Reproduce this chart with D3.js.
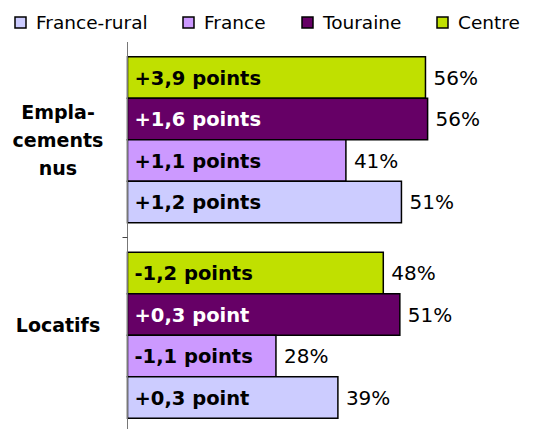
<!DOCTYPE html>
<html>
<head>
<meta charset="utf-8">
<script src="https://cdn.jsdelivr.net/npm/d3@7"></script>
<style>
	body { margin: 0; background: #fff; }
	svg { display: block; font-family: "DejaVu Sans", Verdana, sans-serif; }
</style>
</head>
<body>
<svg id="chart" width="539" height="429"></svg>
<script>
// ── Data ──────────────────────────────────────────────────────────────────────
const categories = ['Emplacements nus', 'Locatifs'];
const categoryLines = [['Empla-', 'cements', 'nus'], ['Locatifs']];
const series = ['Centre', 'Touraine', 'France', 'France-rural'];   // top to bottom in each group
const legendOrder = ['France-rural', 'France', 'Touraine', 'Centre'];
const colors = ['#c0e000', '#660066', '#cc99ff', '#ccccff'];
const textColors = ['#000', '#fff', '#000', '#000'];

// shares (%), per series, per category
const centreValues      = [55.8, 47.9];
const touraineValues    = [56.2, 51.0];
const franceValues      = [40.9, 27.8];
const franceRuralValues = [51.3, 39.4];

// evolution labels
const centreDelta      = ['+3,9 points', '-1,2 points'];
const touraineDelta    = ['+1,6 points', '+0,3 point'];
const franceDelta      = ['+1,1 points', '-1,1 points'];
const franceRuralDelta = ['+1,2 points', '+0,3 point'];

const values = [centreValues, touraineValues, franceValues, franceRuralValues];
const deltas = [centreDelta, touraineDelta, franceDelta, franceRuralDelta];

const rows = [];
categories.forEach((c, ci) => {
	series.forEach((s, si) => {
		rows.push({ cat: c, series: s, si, value: values[si][ci], delta: deltas[si][ci] });
	});
});

// ── Scales ────────────────────────────────────────────────────────────────────
const svg = d3.select('#chart');
const x = d3.scaleLinear().domain([0, 75]).range([127.5, 528]);
const y0 = d3.scaleBand().domain(categories).range([42, 433]).paddingInner(0.151).paddingOuter(0.0755);
const y1 = d3.scaleBand().domain(series).range([0, y0.bandwidth()]);

// ── Bars ──────────────────────────────────────────────────────────────────────
const barG = svg.append('g');
const bar = barG.selectAll('g.bar').data(rows).join('g')
	.attr('class', 'bar')
	.attr('transform', d => `translate(0,${y0(d.cat) + y1(d.series)})`);

bar.append('rect')
	.attr('x', x(0))
	.attr('y', 0)
	.attr('width', d => x(d.value) - x(0))
	.attr('height', y1.bandwidth())
	.attr('fill', d => colors[d.si])
	.attr('stroke', '#000')
	.attr('stroke-width', 1.5);

bar.append('text')
	.attr('x', x(0) + 7)
	.attr('y', y1.bandwidth() / 2)
	.attr('dy', '0.36em')
	.attr('font-size', 19.5)
	.attr('font-weight', 'bold')
	.attr('fill', d => textColors[d.si])
	.text(d => d.delta);

bar.append('text')
	.attr('x', d => x(d.value) + 8)
	.attr('y', y1.bandwidth() / 2)
	.attr('dy', '0.36em')
	.attr('font-size', 20)
	.attr('fill', '#000')
	.text(d => Math.round(d.value) + '%');

// ── Category axis ─────────────────────────────────────────────────────────────
const axisG = svg.append('g');
axisG.append('line')
	.attr('x1', x(0)).attr('x2', x(0))
	.attr('y1', y0.range()[0]).attr('y2', y0.range()[1])
	.attr('stroke', '#777').attr('stroke-width', 1);

// tick between the two groups
const step = y0.step();
axisG.append('line')
	.attr('x1', x(0) - 5).attr('x2', x(0))
	.attr('y1', y0.range()[0] + step).attr('y2', y0.range()[0] + step)
	.attr('stroke', '#444').attr('stroke-width', 1);

// Excel puts the single-line label a little above the band centre
const catShift = [0, -10];
const catLabel = axisG.selectAll('text.cat').data(categories).join('text')
	.attr('class', 'cat')
	.attr('text-anchor', 'middle')
	.attr('font-size', 19)
	.attr('font-weight', 'bold')
	.attr('fill', '#000');

catLabel.each(function(c, ci) {
	const lines = categoryLines[ci];
	const cy = y0(c) + y0.bandwidth() / 2 + catShift[ci];
	const lh = 28;
	d3.select(this).selectAll('tspan').data(lines).join('tspan')
		.attr('x', 58)
		.attr('y', (l, i) => cy + (i - (lines.length - 1) / 2) * lh)
		.attr('dy', '0.36em')
		.text(l => l);
});

// ── Legend ────────────────────────────────────────────────────────────────────
const legendX = [15, 183, 302, 437];
const legend = svg.append('g').selectAll('g').data(legendOrder).join('g')
	.attr('transform', (d, i) => `translate(${legendX[i]},17)`);

legend.append('rect')
	.attr('width', 11).attr('height', 11)
	.attr('fill', d => colors[series.indexOf(d)])
	.attr('stroke', '#000').attr('stroke-width', 1.5);

legend.append('text')
	.attr('x', 21)
	.attr('y', 5.5)
	.attr('dy', '0.36em')
	.attr('font-size', 18.5)
	.attr('fill', '#000')
	.text(d => d);
</script>
</body>
</html>
